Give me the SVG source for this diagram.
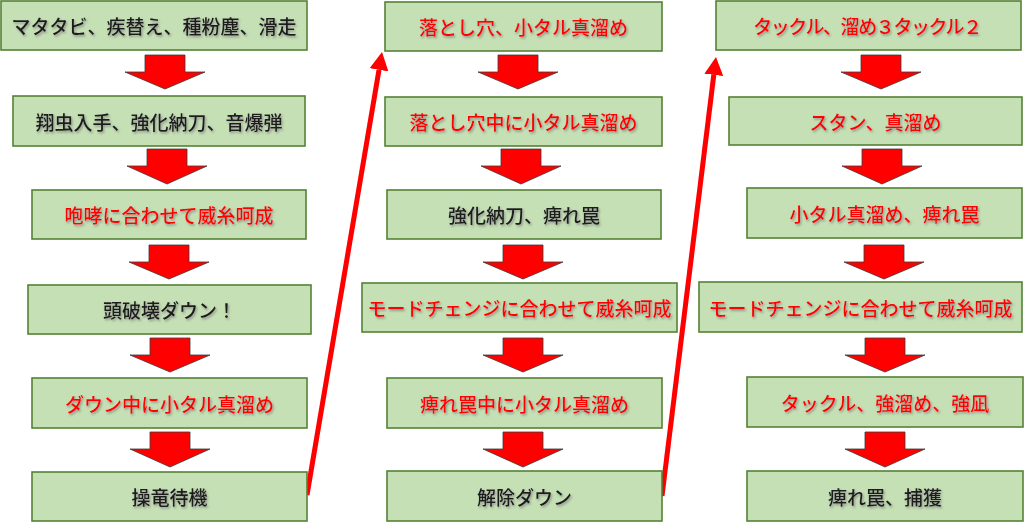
<svg xmlns="http://www.w3.org/2000/svg" width="1024" height="522" viewBox="0 0 1024 522">
<defs>
<filter id="ts" x="-10%" y="-30%" width="120%" height="160%">
<feDropShadow dx="1.2" dy="1.6" stdDeviation="0.8" flood-color="#7f7f7f" flood-opacity="0.8"/>
</filter>
<marker id="ah" viewBox="0 0 18 19" refX="0" refY="9.5" markerWidth="18" markerHeight="19" markerUnits="userSpaceOnUse" orient="auto">
<path d="M0,0 L18,9.5 L0,19 z" fill="#FF0000"/>
</marker>
</defs>
<style>
.box{fill:#C5E0B4;stroke:#548235;stroke-width:1.6}
.t{font-family:"Noto Sans CJK JP","Noto Sans CJK SC",sans-serif;font-size:19px;font-weight:500;text-anchor:middle;dominant-baseline:central;filter:url(#ts)}
.r{fill:#FF0000}
.k{fill:#1a1a1a}
.ba{fill:#FF0000;stroke:#3a3a3a;stroke-width:0.8;stroke-linejoin:miter}
.ln{stroke:#FF0000;stroke-width:5;fill:none;marker-end:url(#ah)}
</style>
<rect width="1024" height="522" fill="#ffffff"/>

<g id="connectors">
<polygon class="ba" points="145,55 185,55 185,72 205,72 165,89 125,72 145,72"/>
<polygon class="ba" points="147,149 187,149 187,166 207,166 167,184 127,166 147,166"/>
<polygon class="ba" points="149,245 189,245 189,262 209,262 169,279 129,262 149,262"/>
<polygon class="ba" points="150,338 190,338 190,355 210,355 170,372 130,355 150,355"/>
<polygon class="ba" points="150,432 190,432 190,449 210,449 170,467 130,449 150,449"/>

<polygon class="ba" points="498,55 538,55 538,72 558,72 518,89 478,72 498,72"/>
<polygon class="ba" points="501,149 541,149 541,166 561,166 521,184 481,166 501,166"/>
<polygon class="ba" points="503,245 543,245 543,262 563,262 523,279 483,262 503,262"/>
<polygon class="ba" points="503,338 543,338 543,355 563,355 523,372 483,355 503,355"/>
<polygon class="ba" points="503,432 543,432 543,449 563,449 523,467 483,449 503,449"/>

<polygon class="ba" points="861,55 901,55 901,72 921,72 881,89 841,72 861,72"/>
<polygon class="ba" points="862,149 902,149 902,166 922,166 882,184 842,166 862,166"/>
<polygon class="ba" points="864,245 904,245 904,262 924,262 884,279 844,262 864,262"/>
<polygon class="ba" points="865,338 905,338 905,355 925,355 885,372 845,355 865,355"/>
<polygon class="ba" points="865,432 905,432 905,449 925,449 885,467 845,449 865,449"/>

<line class="ln" x1="307" y1="495" x2="379" y2="69.8"/>
<line class="ln" x1="662" y1="496" x2="713.8" y2="74.9"/>
</g>

<g id="n1"><rect class="box" x="1" y="1" width="306" height="49"/><text class="t k" x="154" y="25.5">マタタビ、疾替え、種粉塵、滑走</text></g>
<g id="n2"><rect class="box" x="13" y="96" width="292" height="50"/><text class="t k" x="159" y="121">翔虫入手、強化納刀、音爆弾</text></g>
<g id="n3"><rect class="box" x="32" y="190" width="274" height="49"/><text class="t r" x="169" y="214.5">咆哮に合わせて威糸呵成</text></g>
<g id="n4"><rect class="box" x="28" y="285" width="283" height="49"/><text class="t k" x="169.5" y="309.5">頭破壊ダウン！</text></g>
<g id="n5"><rect class="box" x="32" y="378" width="275" height="50"/><text class="t r" x="169.5" y="403">ダウン中に小タル真溜め</text></g>
<g id="n6"><rect class="box" x="32" y="472" width="275" height="49"/><text class="t k" x="169.5" y="496.5">操竜待機</text></g>

<g id="m1"><rect class="box" x="385" y="2" width="277" height="49"/><text class="t r" x="523.5" y="26.5">落とし穴、小タル真溜め</text></g>
<g id="m2"><rect class="box" x="385" y="97" width="277" height="49"/><text class="t r" x="523.5" y="121.5">落とし穴中に小タル真溜め</text></g>
<g id="m3"><rect class="box" x="387" y="190" width="274" height="49"/><text class="t k" x="524" y="214.5">強化納刀、痺れ罠</text></g>
<g id="m4"><rect class="box" x="362" y="283" width="315" height="49"/><text class="t r" x="519.5" y="307.5">モードチェンジに合わせて威糸呵成</text></g>
<g id="m5"><rect class="box" x="387" y="378" width="275" height="50"/><text class="t r" x="524.5" y="403">痺れ罠中に小タル真溜め</text></g>
<g id="m6"><rect class="box" x="387" y="471" width="275" height="50"/><text class="t k" x="524.5" y="496">解除ダウン</text></g>

<g id="r1"><rect class="box" x="716" y="1" width="305" height="49"/><text class="t r" x="867" y="25.5" letter-spacing="-1.4">タックル、溜め３タックル２</text></g>
<g id="r2"><rect class="box" x="729" y="97" width="293" height="48"/><text class="t r" x="875.5" y="121">スタン、真溜め</text></g>
<g id="r3"><rect class="box" x="747" y="188" width="275" height="50"/><text class="t r" x="884.5" y="213">小タル真溜め、痺れ罠</text></g>
<g id="r4"><rect class="box" x="699" y="282" width="323" height="50"/><text class="t r" x="860.5" y="307">モードチェンジに合わせて威糸呵成</text></g>
<g id="r5"><rect class="box" x="747" y="377" width="276" height="50"/><text class="t r" x="885" y="402">タックル、強溜め、強凪</text></g>
<g id="r6"><rect class="box" x="747" y="471" width="276" height="50"/><text class="t k" x="885" y="496">痺れ罠、捕獲</text></g>
</svg>
